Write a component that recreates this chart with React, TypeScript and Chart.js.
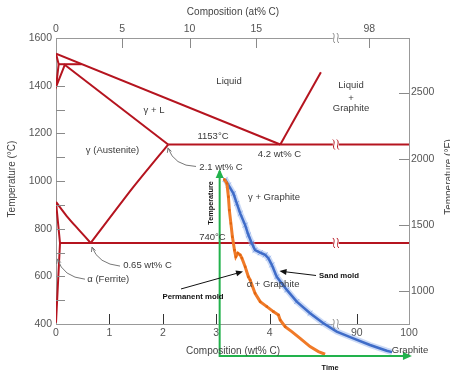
import React, { useEffect, useRef } from 'react';
import { Chart, registerables } from 'chart.js';
Chart.register(...registerables);

const FONT = '"Liberation Sans", Arial, Helvetica, sans-serif';

// ---- axis ticks ----
const wtTicks = [0, 1, 2, 3, 4, 90, 100];
const atTickLabels = ['0', '5', '10', '15', '98'];
const atTickWtEquiv = [0, 1.24, 2.5, 3.75, 92.4];
const tempCTicks = [400, 600, 800, 1000, 1200, 1400, 1600];
const tempCInnerTicks = [500, 600, 700, 800, 900, 1000, 1100, 1200, 1300, 1400];
const tempFTicks = [1000, 1500, 2000, 2500];

// ---- phase boundaries (wt% C, °C) ----
const deltaSolidusWt = [0, 0.05];
const deltaSolidusC = [1534, 1490];
const deltaGammaWt = [0.05, 0, 0.17];
const deltaGammaC = [1490, 1394, 1490];
const peritecticWt = [0.05, 0.48];
const peritecticC = [1490, 1490];
const liquidusWt = [0, 4.2];
const liquidusC = [1534, 1153];
const solidusWt = [0.15, 2.1];
const solidusC = [1490, 1153];
const eutecticWt = [2.1, 100];
const eutecticC = [1153, 1153];
const graphiteLiqWt = [4.2, 4.96];
const graphiteLiqC = [1153, 1456];
const acmWt = [2.1, 1.45, 0.65];
const acmC = [1153, 975, 740];
const a3Wt = [0, 0.2, 0.42, 0.65];
const a3C = [912, 853, 797, 740];
const ferriteWt = [0, 0.075, 0];
const ferriteC = [912, 740, 405];
const eutectoidWt = [0.075, 100];
const eutectoidC = [740, 740];

// ---- cooling curves (time, °C) ----
const permTime = [2.4, 3.8, 4.6, 5.1, 5.9, 6.7, 7.8, 8.5, 9.6, 10.8, 11.7, 13.4, 15.1, 16.0, 18.6, 21.3, 24.8, 28.2, 30.9, 31.8, 34.4, 37.9, 42.3, 47.5, 51.9, 55.4];
const permTemp = [1007, 990, 934, 878, 822, 766, 710, 682, 697, 690, 676, 640, 598, 585, 529, 494, 473, 452, 438, 417, 389, 368, 340, 305, 284, 273];
const sandTime = [2.9, 4.6, 7.2, 9.0, 10.8, 13.4, 15.1, 16.9, 18.6, 21.3, 23.9, 25.6, 27.4, 30.0, 35.3, 40.5, 47.5, 54.5, 61.5, 70.2, 79.0, 87.8, 90.6];
const sandTemp = [1007, 983, 948, 906, 864, 815, 773, 739, 710, 699, 690, 676, 648, 598, 543, 494, 445, 403, 368, 340, 312, 288, 282];
const coolAxisTime = [0, 0, 100];
const coolAxisTemp = [1042, 266, 266];

// broken composition axis: 0..~5.2 wt% linear, then 90..100 wt%
const BREAK_AT = 5.24;
function disp(wt: number) {
  return wt < 50 ? wt : 5.631 + (wt - 90) * 0.0979;
}

const RED = '#b5141f';
const GREEN = '#22b24c';
const TXT = '#3a3a3a';

const labels = [
  { t: 'Liquid', d: 3.24, T: 1419 },
  { t: 'Liquid', d: 5.524, T: 1403 },
  { t: '+', d: 5.524, T: 1348 },
  { t: 'Graphite', d: 5.524, T: 1305 },
  { t: 'γ + L', d: 1.835, T: 1298 },
  { t: '1153°C', d: 2.94, T: 1186 },
  { t: 'γ (Austenite)', d: 1.058, T: 1130 },
  { t: '4.2 wt% C', d: 4.185, T: 1113 },
  { t: '2.1 wt% C', d: 3.09, T: 1059 },
  { t: 'γ + Graphite', d: 4.082, T: 933 },
  { t: '740°C', d: 2.93, T: 764 },
  { t: '0.65 wt% C', d: 1.713, T: 646 },
  { t: 'α (Ferrite)', d: 0.979, T: 588 },
  { t: 'α + Graphite', d: 4.064, T: 567 },
  { t: 'Graphite', d: 6.629, T: 291 },
];

const decor = {
  id: 'decor',
  afterDatasetsDraw(chart: any) {
    const { ctx, chartArea: a, scales } = chart;
    const sx = scales.x, sy = scales.y, sF = scales.yF, st = scales.time;
    const P = (d: number, T: number) => [sx.getPixelForValue(d), sy.getPixelForValue(T)];
    ctx.save();

    // inner tick marks
    ctx.lineWidth = 1;
    ctx.strokeStyle = '#8a8a8a';
    ctx.beginPath();
    tempCInnerTicks.forEach((T) => {
      const y = Math.round(sy.getPixelForValue(T)) + 0.5;
      ctx.moveTo(a.left, y); ctx.lineTo(a.left + 9, y);
    });
    tempFTicks.forEach((F) => {
      const y = Math.round(sF.getPixelForValue(F)) + 0.5;
      ctx.moveTo(a.right - 10, y); ctx.lineTo(a.right, y);
    });
    atTickWtEquiv.slice(1).forEach((w) => {
      const x = Math.round(sx.getPixelForValue(disp(w))) + 0.5;
      ctx.moveTo(x, a.top); ctx.lineTo(x, a.top + 10);
    });
    ctx.stroke();
    ctx.strokeStyle = '#333';
    ctx.beginPath();
    wtTicks.slice(1, -1).forEach((w) => {
      const x = Math.round(sx.getPixelForValue(disp(w))) + 0.5;
      ctx.moveTo(x, a.bottom); ctx.lineTo(x, a.bottom - 10);
    });
    ctx.stroke();

    // break marks
    const brk = (x: number, y: number, color: string) => {
      ctx.fillStyle = '#fff';
      ctx.fillRect(x - 3, y - 2, 6, 4);
      ctx.strokeStyle = color;
      ctx.lineWidth = 1;
      [-2, 2].forEach((o) => {
        ctx.beginPath();
        ctx.moveTo(x + o - 1, y - 5);
        ctx.bezierCurveTo(x + o + 2.5, y - 2, x + o - 2.5, y + 2, x + o + 1, y + 5);
        ctx.stroke();
      });
    };
    const bx = sx.getPixelForValue(BREAK_AT);
    brk(bx, a.top, '#888');
    brk(bx, a.bottom, '#888');
    brk(bx, sy.getPixelForValue(1153), RED);
    brk(bx, sy.getPixelForValue(740), RED);

    // gray leaders
    const leader = (s: number[], c: number[], t: number[]) => {
      const [x0, y0] = P(s[0], s[1]);
      const [x1, y1] = P(c[0], c[1]);
      const [x2, y2] = P(t[0], t[1]);
      ctx.strokeStyle = '#777';
      ctx.lineWidth = 1;
      ctx.beginPath();
      ctx.moveTo(x0, y0);
      ctx.quadraticCurveTo(x1, y1, x2, y2);
      ctx.stroke();
      const ang = Math.atan2(y2 - y1, x2 - x1);
      ctx.beginPath();
      ctx.moveTo(x2 - 5 * Math.cos(ang - 0.45), y2 - 5 * Math.sin(ang - 0.45));
      ctx.lineTo(x2, y2);
      ctx.lineTo(x2 - 5 * Math.cos(ang + 0.45), y2 - 5 * Math.sin(ang + 0.45));
      ctx.stroke();
    };
    leader([2.622, 1061], [2.21, 1063], [2.097, 1139]);
    leader([1.199, 643], [0.787, 652], [0.674, 723]);
    leader([0.543, 588], [0.131, 597], [0.028, 673]);

    // filled arrows
    const arrow = (x0: number, y0: number, x1: number, y1: number, color: string, len: number, hw: number, stem: boolean) => {
      const ang = Math.atan2(y1 - y0, x1 - x0);
      if (stem) {
        ctx.strokeStyle = color; ctx.lineWidth = 1;
        ctx.beginPath(); ctx.moveTo(x0, y0); ctx.lineTo(x1 - len * 0.7 * Math.cos(ang), y1 - len * 0.7 * Math.sin(ang)); ctx.stroke();
      }
      ctx.fillStyle = color;
      ctx.beginPath();
      ctx.moveTo(x1, y1);
      ctx.lineTo(x1 - len * Math.cos(ang) + hw * Math.sin(ang), y1 - len * Math.sin(ang) - hw * Math.cos(ang));
      ctx.lineTo(x1 - len * Math.cos(ang) - hw * Math.sin(ang), y1 - len * Math.sin(ang) + hw * Math.cos(ang));
      ctx.closePath();
      ctx.fill();
    };
    {
      const [x0, y0] = P(2.341, 547); const [x1, y1] = P(3.502, 620);
      arrow(x0, y0, x1, y1, '#111', 7, 3, true);
      const [u0, v0] = P(4.869, 603.5); const [u1, v1] = P(4.185, 622);
      arrow(u0, v0, u1, v1, '#111', 7, 3, true);
      // green axis arrowheads
      const gx = st.getPixelForValue(0), gTop = sy.getPixelForValue(1042);
      const gy = sy.getPixelForValue(266), gRight = st.getPixelForValue(100);
      arrow(gx, gTop + 10, gx, gTop - 2, GREEN, 9, 4, false);
      arrow(gRight - 10, gy, gRight + 2, gy, GREEN, 9, 4, false);
    }

    // region / value labels
    ctx.fillStyle = TXT;
    ctx.textAlign = 'center';
    ctx.textBaseline = 'middle';
    ctx.font = `9.5px ${FONT}`;
    labels.forEach((l) => {
      const [x, y] = P(l.d, l.T);
      ctx.fillText(l.t, x, y);
    });
    ctx.fillStyle = '#111';
    ctx.font = `bold 7.8px ${FONT}`;
    { const [x, y] = P(2.566, 513); ctx.fillText('Permanent mold', x, y); }
    { const [x, y] = P(5.3, 601); ctx.fillText('Sand mold', x, y); }
    ctx.font = `bold 7.3px ${FONT}`;
    { const [x, y] = P(5.131, 214); ctx.fillText('Time', x, y); }
    {
      const [x, y] = P(2.897, 908);
      ctx.save(); ctx.translate(x, y); ctx.rotate(-Math.PI / 2); ctx.fillText('Temperature', 0, 0); ctx.restore();
    }

    // axis titles
    ctx.fillStyle = '#444';
    ctx.font = `10px ${FONT}`;
    ctx.fillText('Composition (at% C)', 233, 12.5);
    ctx.fillText('Composition (wt% C)', 233, 351);
    ctx.save(); ctx.translate(12.5, 179); ctx.rotate(-Math.PI / 2); ctx.fillText('Temperature (°C)', 0, 0); ctx.restore();
    ctx.save(); ctx.translate(449, 177); ctx.rotate(-Math.PI / 2); ctx.fillText('Temperature (°F)', 0, 0); ctx.restore();

    ctx.restore();
  },
};

function phase(xs: number[], ys: number[], tension = 0) {
  return {
    data: xs.map((x, i) => ({ x: disp(x), y: ys[i] })),
    showLine: true,
    borderColor: RED,
    borderWidth: 2,
    pointRadius: 0,
    tension,
    xAxisID: 'x',
    yAxisID: 'y',
  };
}

function timed(xs: number[], ys: number[], extra: any) {
  return {
    data: xs.map((x, i) => ({ x, y: ys[i] })),
    showLine: true,
    xAxisID: 'time',
    yAxisID: 'y',
    clip: false,
    ...extra,
  };
}

export default function App() {
  const ref = useRef<HTMLCanvasElement>(null);
  useEffect(() => {
    document.body.style.margin = '0';
    const canvas = ref.current!;
    const datasets: any[] = [
      timed(coolAxisTime, coolAxisTemp, { borderColor: GREEN, borderWidth: 2, pointRadius: 0, borderJoinStyle: 'miter' }),
      timed(permTime, permTemp, { borderColor: '#f07a28', borderWidth: 3, pointRadius: 1.6, pointStyle: 'rect', pointBackgroundColor: '#e2650f', pointBorderWidth: 0 }),
      timed(sandTime, sandTemp, { borderColor: '#3f6cc8', borderWidth: 2.5, pointRadius: 0 }),
      timed(sandTime, sandTemp, { borderColor: 'rgba(150,180,238,0.5)', borderWidth: 6, pointRadius: 3.5, pointStyle: 'crossRot', pointBorderColor: 'rgba(110,150,228,0.7)', pointBorderWidth: 1 }),
      phase(deltaSolidusWt, deltaSolidusC),
      phase(deltaGammaWt, deltaGammaC),
      phase(peritecticWt, peritecticC),
      phase(liquidusWt, liquidusC),
      phase(solidusWt, solidusC),
      phase(eutecticWt, eutecticC),
      phase(graphiteLiqWt, graphiteLiqC),
      phase(acmWt, acmC, 0.2),
      phase(a3Wt, a3C, 0.3),
      phase(ferriteWt, ferriteC),
      phase(eutectoidWt, eutectoidC),
    ];
    const tickFont = { family: FONT, size: 10.5 };
    const chart = new Chart(canvas, {
      type: 'scatter',
      data: { datasets },
      plugins: [decor],
      options: {
        animation: false,
        responsive: true,
        maintainAspectRatio: false,
        events: [],
        layout: { padding: 0 },
        plugins: { legend: { display: false }, tooltip: { enabled: false } },
        scales: {
          x: {
            type: 'linear', position: 'bottom', min: 0, max: disp(100),
            afterBuildTicks: (s: any) => { s.ticks = wtTicks.map((v) => ({ value: disp(v) })); },
            ticks: { autoSkip: false, maxRotation: 0, padding: 3, color: '#555', font: tickFont, callback: (_v: any, i: number) => String(wtTicks[i]) },
            grid: { display: false, drawTicks: false },
            border: { display: true, color: '#999', width: 1 },
            afterFit: (s: any) => { s.height = 48; },
          },
          xTop: {
            type: 'linear', position: 'top', min: 0, max: disp(100),
            afterBuildTicks: (s: any) => { s.ticks = atTickWtEquiv.map((v) => ({ value: disp(v) })); },
            ticks: { autoSkip: false, maxRotation: 0, padding: 3, color: '#555', font: tickFont, callback: (_v: any, i: number) => atTickLabels[i] },
            grid: { display: false, drawTicks: false },
            border: { display: true, color: '#999', width: 1 },
            afterFit: (s: any) => { s.height = 38; },
          },
          time: { type: 'linear', axis: 'x', display: false, min: -86, max: 99.5 },
          y: {
            type: 'linear', position: 'left', min: 400, max: 1600,
            afterBuildTicks: (s: any) => { s.ticks = tempCTicks.map((v) => ({ value: v })); },
            ticks: { autoSkip: false, padding: 4, color: '#555', font: tickFont, callback: (_v: any, i: number) => String(tempCTicks[i]) },
            grid: { display: false, drawTicks: false },
            border: { display: true, color: '#999', width: 1 },
            afterFit: (s: any) => { s.width = 56; },
          },
          yF: {
            type: 'linear', position: 'right', min: 400 * 9 / 5 + 32, max: 1600 * 9 / 5 + 32,
            afterBuildTicks: (s: any) => { s.ticks = tempFTicks.map((v) => ({ value: v })); },
            ticks: { autoSkip: false, padding: 2, color: '#555', font: tickFont, callback: (_v: any, i: number) => String(tempFTicks[i]) },
            grid: { display: false, drawTicks: false },
            border: { display: true, color: '#999', width: 1 },
            afterFit: (s: any) => { s.width = 41; },
          },
        },
      } as any,
    });
    return () => chart.destroy();
  }, []);
  return (
    <div style={{ width: 450, height: 372, position: 'relative', background: '#fff' }}>
      <canvas ref={ref} />
    </div>
  );
}
